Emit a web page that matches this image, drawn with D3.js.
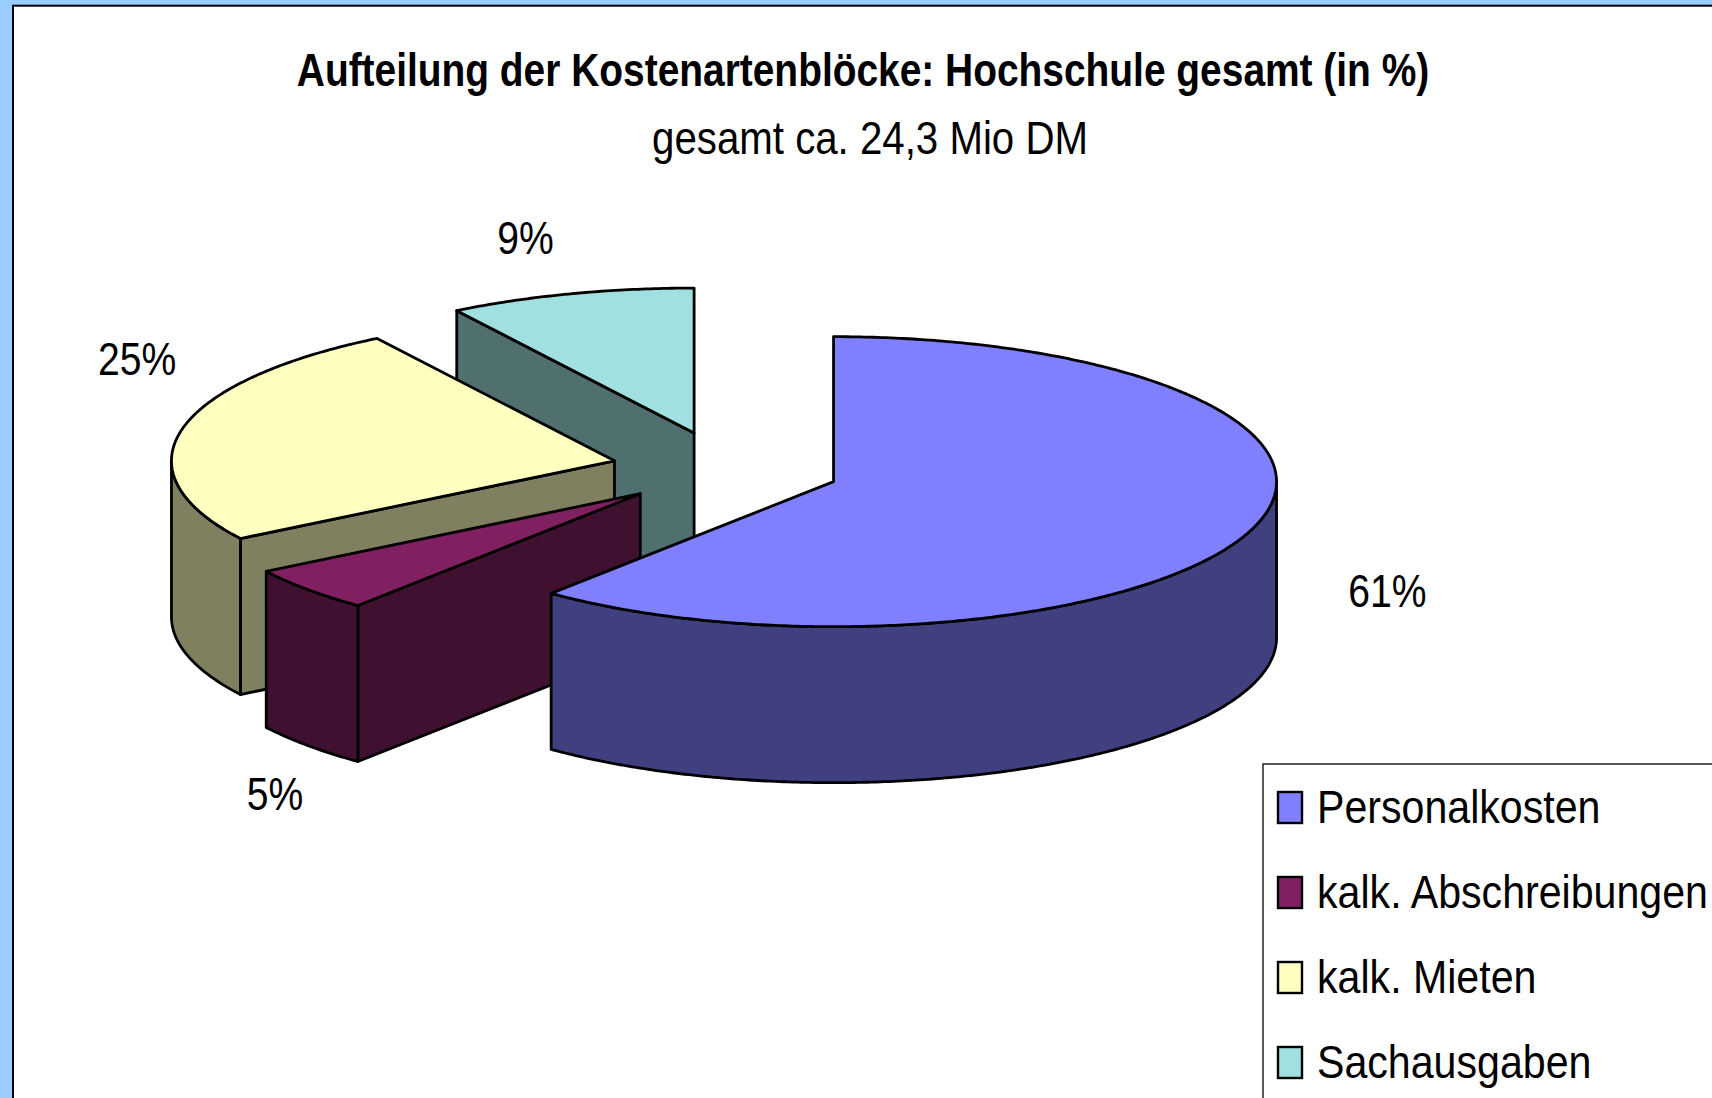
<!DOCTYPE html>
<html>
<head>
<meta charset="utf-8">
<script src="https://cdn.jsdelivr.net/npm/d3@7"></script>
<style>
body { margin: 0; background: #99ccff; }
svg { display: block; }
text { font-family: "Liberation Sans", Arial, sans-serif; fill: #000; }
</style>
</head>
<body>
<svg id="chart" width="1712" height="1098"></svg>
<script>
// Daten
const kategorien = ["Personalkosten", "kalk. Abschreibungen", "kalk. Mieten", "Sachausgaben"];
const anteile = [61, 5, 25, 9];
const beschriftungen = ["61%", "5%", "25%", "9%"];
const titel = "Aufteilung der Kostenartenblöcke: Hochschule gesamt (in %)";
const untertitel = "gesamt ca. 24,3 Mio DM";

// Farben (Excel 97 Palette), Seiten = halbe Helligkeit
const farbenOben = ["#8080ff", "#802060", "#ffffc0", "#a0e0e0"];
const farbenSeite = ["#404080", "#401030", "#808060", "#507070"];

// Layout
const width = 1712, height = 1098;
const cx = 726, cy = 469, rx = 443, ry = 145;
const tiefe = 156;       // Höhe der Tortenscheibe
const explode = 0.258;   // Abstand der Stücke, Anteil vom Radius
const schmal = 0.85;     // Schrift ist horizontal gestaucht
// Position der Prozentwerte relativ zum Randpunkt in Stückmitte
const labelVersatz = [[137, 76], [-33, 220], [-45, -54], [-45, -40]];

const svg = d3.select("#chart");

// Rahmen
svg.append("rect").attr("width", width).attr("height", height).attr("fill", "#99ccff");
svg.append("rect")
    .attr("x", 13).attr("y", 5.7)
    .attr("width", width).attr("height", height)
    .attr("fill", "#fff")
    .attr("stroke", "#000")
    .attr("stroke-width", 2);

function schreibe(g, x, y, str, size, weight, anchor, sx) {
    return g.append("g")
        .attr("transform", `translate(${x},${y}) scale(${sx},1)`)
        .append("text")
        .attr("text-anchor", anchor)
        .style("font-size", size + "px")
        .style("font-weight", weight)
        .text(str);
}

// Titel, auf Breite gebracht
function passeBreite(t, ziel) {
    const len = t.node().getComputedTextLength();
    const g = d3.select(t.node().parentNode);
    const tr = g.attr("transform").replace(/scale\([^)]*\)/, `scale(${ziel / len},1)`);
    g.attr("transform", tr);
}
const tTitel = schreibe(svg, 863, 86, titel, 47, "bold", "middle", 1);
passeBreite(tTitel, 1133);
const tUnter = schreibe(svg, 870, 154, untertitel, 47, "normal", "middle", 1);
passeBreite(tUnter, 436);

// Skalen: Einheitskreis -> Ellipse
const x = d3.scaleLinear().domain([-1, 1]).range([cx - rx, cx + rx]);
const y = d3.scaleLinear().domain([-1, 1]).range([cy - ry, cy + ry]);

const pie = d3.pie().sort(null).value(d => d);
const stuecke = pie(anteile).map((d, i) => {
    const mitte = (d.startAngle + d.endAngle) / 2;
    const ox = explode * Math.sin(mitte), oy = -explode * Math.cos(mitte);
    // Vorderster Punkt des Stücks (für Zeichenreihenfolge)
    let vorne = -Infinity;
    d3.range(d.startAngle, d.endAngle, 0.01).concat(d.endAngle).forEach(a => {
        vorne = Math.max(vorne, -Math.cos(a));
    });
    return { ...d, i, mitte, ox, oy, vorne: oy + vorne };
});

const rand = (s, a, dz = 0) => [x(s.ox + Math.sin(a)), y(s.oy - Math.cos(a)) + dz];
const spitze = (s, dz = 0) => [x(s.ox), y(s.oy) + dz];
const boegen = (a0, a1) => {
    const n = Math.max(2, Math.ceil((a1 - a0) / 0.01));
    return d3.range(n + 1).map(k => a0 + (a1 - a0) * k / n);
};
const linie = d3.line();

const torte = svg.append("g")
    .attr("stroke", "#000")
    .attr("stroke-width", 2.8)
    .attr("stroke-linejoin", "round");

stuecke.slice().sort((a, b) => a.vorne - b.vorne).forEach(s => {
    const g = torte.append("g");

    // Schnittflächen
    if (Math.sin(s.startAngle) < -1e-6) {
        g.append("path")
            .attr("fill", farbenSeite[s.i])
            .attr("d", linie([spitze(s), rand(s, s.startAngle), rand(s, s.startAngle, tiefe), spitze(s, tiefe)]) + "Z");
    }
    if (Math.sin(s.endAngle) > 1e-6) {
        g.append("path")
            .attr("fill", farbenSeite[s.i])
            .attr("d", linie([spitze(s), rand(s, s.endAngle), rand(s, s.endAngle, tiefe), spitze(s, tiefe)]) + "Z");
    }

    // Außenwand (nur vordere Hälfte sichtbar)
    const a0 = Math.max(s.startAngle, Math.PI / 2);
    const a1 = Math.min(s.endAngle, 3 * Math.PI / 2);
    if (a1 > a0) {
        const oben = boegen(a0, a1).map(a => rand(s, a));
        const unten = boegen(a0, a1).reverse().map(a => rand(s, a, tiefe));
        g.append("path")
            .attr("fill", farbenSeite[s.i])
            .attr("d", linie(oben.concat(unten)) + "Z");
    }

    // Deckfläche
    const deck = [spitze(s)].concat(boegen(s.startAngle, s.endAngle).map(a => rand(s, a)));
    g.append("path")
        .attr("fill", farbenOben[s.i])
        .attr("d", linie(deck) + "Z");
});

// Prozentwerte
stuecke.forEach(s => {
    const [px, py] = rand(s, s.mitte);
    const [dx, dy] = labelVersatz[s.i];
    schreibe(svg, px + dx, py + dy, beschriftungen[s.i], 46, "normal", "middle", schmal);
});

// Legende
const legende = svg.append("g");
legende.append("rect")
    .attr("x", 1263).attr("y", 764)
    .attr("width", 600).attr("height", 500)
    .attr("fill", "#fff")
    .attr("stroke", "#000")
    .attr("stroke-width", 1.3);

kategorien.forEach((k, i) => {
    const zy = 792 + i * 85;
    legende.append("rect")
        .attr("x", 1278).attr("y", zy)
        .attr("width", 24).attr("height", 31)
        .attr("fill", farbenOben[i])
        .attr("stroke", "#000")
        .attr("stroke-width", 2.4);
    schreibe(legende, 1317, zy + 31, k, 47, "normal", "start", 0.875);
});
</script>
</body>
</html>
